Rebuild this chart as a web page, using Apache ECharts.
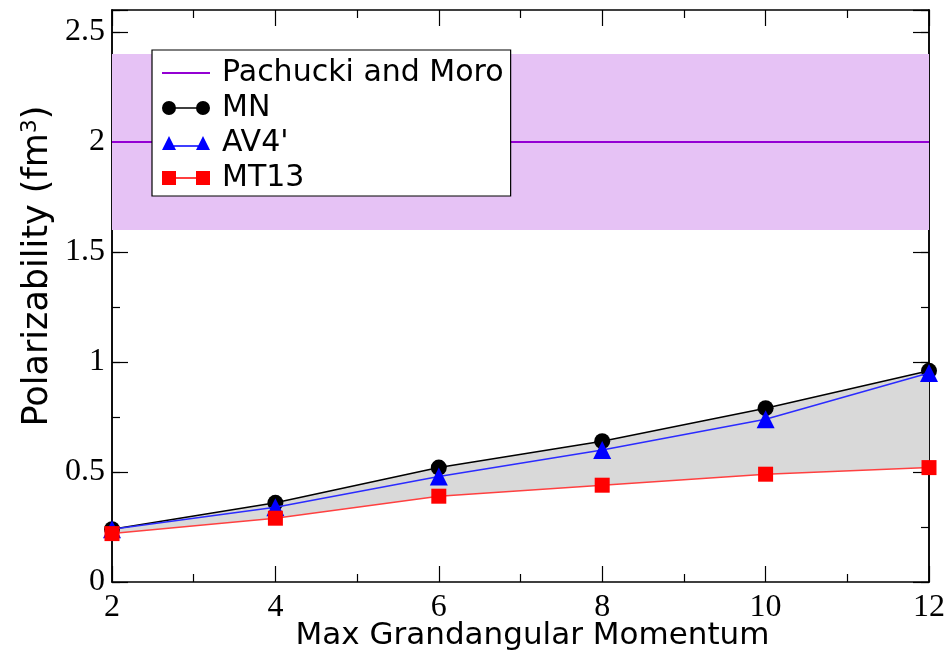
<!DOCTYPE html>
<html>
<head>
<meta charset="utf-8">
<script src="https://cdn.jsdelivr.net/npm/echarts@6/dist/echarts.min.js"></script>
<style>
  html, body { margin: 0; padding: 0; background: #fff; }
  #chart { width: 948px; height: 654px; }
</style>
</head>
<body>
<div id="chart"></div>
<script>
// data
var momentum = [2, 4, 6, 8, 10, 12];
var mn   = [0.24, 0.36, 0.52, 0.64, 0.79, 0.96];
var av4  = [0.24, 0.34, 0.48, 0.60, 0.74, 0.95];
var mt13 = [0.22, 0.29, 0.39, 0.44, 0.49, 0.52];
var pachucki = 2.0;
var pachuckiBand = [1.6, 2.4];

function pairs(vals) {
    return momentum.map(function (x, i) { return [x, vals[i]]; });
}

var serifFont = 'Liberation Serif';
var sansFont = 'DejaVu Sans';

// legend icons: line with a marker at each end
var iconCircle = 'path://M0,7A7,7 0 1,1 14,7A7,7 0 1,1 0,7Z M7,6.2H41V7.8H7Z M34,7A7,7 0 1,1 48,7A7,7 0 1,1 34,7Z';
var iconTri = 'path://M0,14L7,0L14,14Z M7,9.2H41V10.8H7Z M34,14L41,0L48,14Z';
var iconRect = 'path://M0,0H14V14H0Z M7,6.2H41V7.8H7Z M34,0H48V14H34Z';
var iconLine = 'path://M6,6.2H42V7.8H6Z';

function frameAxis(pos, showLabel, tickLen) {
    return {
        type: 'value',
        position: pos,
        axisLine: { show: true, onZero: false, lineStyle: { color: '#000', width: 1.5 } },
        axisTick: { show: true, inside: true, length: tickLen, lineStyle: { color: '#000', width: 1.2 } },
        splitLine: { show: false },
        axisLabel: { show: showLabel, color: '#000', fontFamily: serifFont, fontSize: 32 }
    };
}

function xFrame(pos, showLabel) {
    var a = frameAxis(pos, showLabel, 16);
    a.min = 2; a.max = 12; a.interval = 2;
    a.minorTick = { show: true, splitNumber: 2, length: 8, lineStyle: { color: '#000', width: 1.2 } };
    return a;
}
function yFrame(pos, showLabel, step, tickLen) {
    var a = frameAxis(pos, showLabel, tickLen);
    a.min = 0; a.max = 2.6; a.interval = step;
    return a;
}

var xBottom = xFrame('bottom', true);
xBottom.axisLabel.margin = 10;
xBottom.name = 'Max Grandangular Momentum';
xBottom.nameLocation = 'middle';
xBottom.nameMoveOverlap = false;
xBottom.nameGap = 38;
xBottom.nameTextStyle = { color: '#000', fontFamily: sansFont, fontSize: 31, padding: [0, 0, 0, 24] };
var xTop = xFrame('top', false);

var yLeft = yFrame('left', true, 0.5, 16);
yLeft.axisLabel.margin = 7;
yLeft.axisLabel.formatter = function (v) { return v > 2.55 ? '' : String(v); };
yLeft.name = 'Polarizability (fm{sup|3})';
yLeft.nameLocation = 'middle';
yLeft.nameMoveOverlap = false;
yLeft.nameGap = 55;
yLeft.nameTextStyle = {
    color: '#000', fontFamily: sansFont, fontSize: 35, padding: [0, 0, 0, 60],
    rich: { sup: { fontFamily: sansFont, fontSize: 22, verticalAlign: 'top', padding: [0, 0, 16, 0], color: '#000' } }
};
var yLeftMinor = yFrame('left', false, 0.25, 8);
var yRight = yFrame('right', false, 0.5, 16);
var yRightMinor = yFrame('right', false, 0.25, 8);

var chart = echarts.init(document.getElementById('chart'), null, { renderer: 'canvas' });
chart.setOption({
    animation: false,
    backgroundColor: '#fff',
    grid: { left: 112, right: 19, top: 10, bottom: 72, containLabel: false, outerBoundsMode: 'none' },
    xAxis: [xBottom, xTop],
    yAxis: [yLeft, yLeftMinor, yRight, yRightMinor],
    legend: {
        left: 152, top: 50,
        orient: 'vertical',
        padding: [7, 7, 2, 10],
        itemGap: 3,
        itemWidth: 48,
        itemHeight: 14,
        backgroundColor: '#fff',
        borderColor: '#000',
        borderWidth: 1.2,
        borderRadius: 0,
        selectedMode: false,
        textStyle: { color: '#000', fontFamily: sansFont, fontSize: 30, lineHeight: 32, padding: [0, 0, 0, 7] },
        data: [
            { name: 'Pachucki and Moro', icon: iconLine },
            { name: 'MN', icon: iconCircle },
            { name: "AV4'", icon: iconTri },
            { name: 'MT13', icon: iconRect }
        ]
    },
    series: [
        {
            name: 'Pachucki and Moro',
            type: 'line',
            data: [[momentum[0], pachucki], [momentum[momentum.length - 1], pachucki]],
            symbol: 'none',
            color: '#9400d3',
            lineStyle: { color: '#9400d3', width: 2 },
            z: 2,
            markArea: {
                silent: true,
                itemStyle: { color: '#e6c2f5' },
                data: [[{ yAxis: pachuckiBand[0] }, { yAxis: pachuckiBand[1] }]]
            }
        },
        {
            // gray spread between MT13 and MN
            name: 'spread',
            type: 'custom',
            silent: true,
            z: 1,
            data: momentum.map(function (x, i) { return [x, mn[i], mt13[i]]; }),
            encode: { x: 0, y: [1, 2] },
            renderItem: function (params, api) {
                if (params.dataIndex !== 0) { return null; }
                var pts = [];
                momentum.forEach(function (x, i) { pts.push(api.coord([x, mn[i]])); });
                for (var i = momentum.length - 1; i >= 0; i--) {
                    pts.push(api.coord([momentum[i], mt13[i]]));
                }
                return { type: 'polygon', shape: { points: pts }, style: { fill: '#d9d9d9' } };
            }
        },
        {
            name: 'MN',
            type: 'line',
            data: pairs(mn),
            color: '#000',
            symbol: 'circle',
            symbolSize: 16,
            lineStyle: { color: '#000', width: 1.5 },
            itemStyle: { color: '#000' },
            z: 3
        },
        {
            name: "AV4'",
            type: 'line',
            data: pairs(av4),
            color: '#0000ff',
            symbol: 'triangle',
            symbolSize: 18,
            lineStyle: { color: '#2b2bff', width: 1.5 },
            itemStyle: { color: '#0000ff' },
            z: 4
        },
        {
            name: 'MT13',
            type: 'line',
            data: pairs(mt13),
            color: '#ff0000',
            symbol: 'rect',
            symbolSize: 15,
            lineStyle: { color: '#ff4040', width: 1.5 },
            itemStyle: { color: '#ff0000' },
            z: 5
        }
    ]
});
</script>
</body>
</html>
